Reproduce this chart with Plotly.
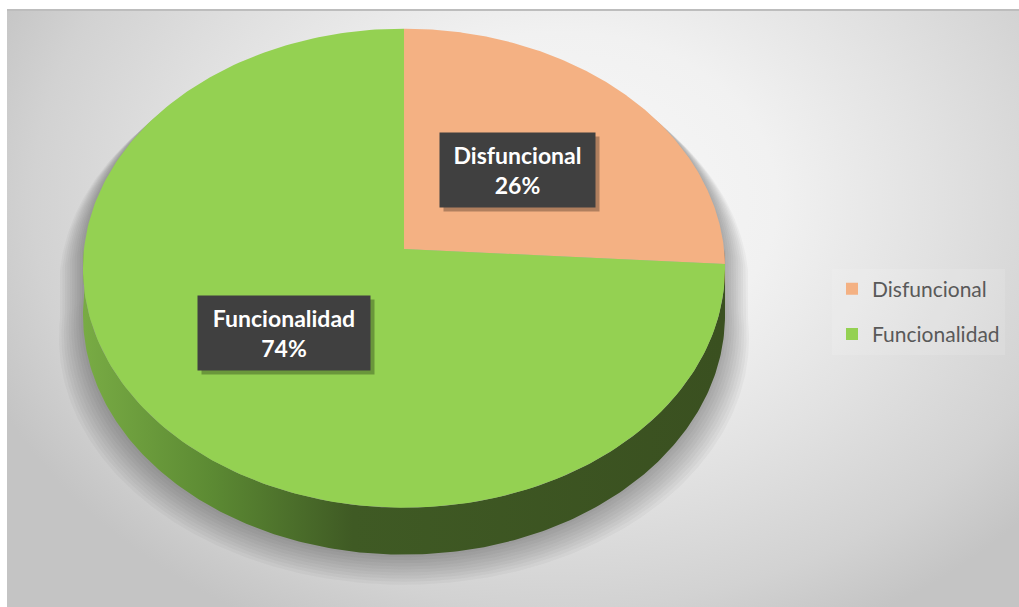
import numpy as np
import plotly.graph_objects as go

# ---------------- data ----------------
labels = ["Disfuncional", "Funcionalidad"]
values = [26, 74]
top_colors = ["#F4B183", "#94D152"]
side_scales = [
    [[0, "#a8704a"], [1, "#8a5a38"]],
    [[0, "#78ab44"], [0.2, "#5c8a33"], [0.42, "#3f5a24"], [1, "#3a5020"]],
]

# ---------------- geometry (pixel space of the plot area) ----------------
CX, CY, RX, RY, K, DEPTH = 404, 249, 320, 238, 0.08, 47
N = 240


def proj(theta_deg, f=1.0, z=0.0):
    t = np.radians(np.asarray(theta_deg, dtype=float))
    u = f * np.sin(t)
    v = f * np.cos(t)
    s = 1.0 / (1.0 + K * v)
    return CX + RX * u * s, CY - RY * v * s + z


total = float(sum(values))
angles = np.concatenate([[0], np.cumsum(values) / total * 360.0])

fig = go.Figure()

# background (radial gradient)
bx0, bx1, by0, by1 = -60, 1180, -280, 680
fig.add_trace(go.Scatter(
    x=[bx0, bx1, bx1, bx0, bx0], y=[by0, by0, by1, by1, by0],
    mode="lines", line=dict(width=0), fill="toself",
    fillgradient=dict(type="radial", colorscale=[[0, "#f8f8f8"], [0.35, "#f1f1f1"],
                                                 [0.6, "#e2e2e2"], [0.85, "#d2d2d2"],
                                                 [1, "#c4c4c4"]]),
    hoverinfo="skip", showlegend=False))

# soft shadow around the pie silhouette
back = np.linspace(-90, 90, N)
front = np.linspace(90, 270, N)
sx_b, sy_b = proj(back)
sx_f, sy_f = proj(front, z=DEPTH)
sil_x = np.concatenate([sx_b, sx_f])
sil_y = np.concatenate([sy_b, sy_f])
mcx, mcy = CX, CY + DEPTH / 2
for g in np.linspace(24, 2, 10):
    xs = mcx + (sil_x - mcx) * (1 + g / RX)
    ys = mcy + (sil_y - mcy) * (1 + 0.3 * g / RY) + g * 0.9
    fig.add_trace(go.Scatter(
        x=np.append(xs, xs[0]), y=np.append(ys, ys[0]), mode="lines",
        line=dict(width=0), fill="toself", fillcolor="rgba(0,0,0,0.032)",
        hoverinfo="skip", showlegend=False))

# side walls
for i in range(len(values)):
    lo, hi = max(angles[i], 90.0), min(angles[i + 1], 270.0)
    if hi <= lo:
        continue
    th = np.linspace(lo, hi, N)
    tx, ty = proj(th)
    bx, by = proj(th[::-1], z=DEPTH)
    xs = np.concatenate([tx, bx, tx[:1]])
    ys = np.concatenate([ty, by, ty[:1]])
    fig.add_trace(go.Scatter(
        x=xs, y=ys, mode="lines", line=dict(width=0), fill="toself",
        fillgradient=dict(type="horizontal", colorscale=side_scales[i],
                          start=CX - RX, stop=CX + RX),
        hoverinfo="skip", showlegend=False))

# top faces
for i in range(len(values)):
    th = np.linspace(angles[i], angles[i + 1], N)
    ax_, ay_ = proj(th)
    xs = np.concatenate([[CX], ax_, [CX]])
    ys = np.concatenate([[CY], ay_, [CY]])
    fig.add_trace(go.Scatter(
        x=xs, y=ys, mode="lines", line=dict(width=0, color=top_colors[i]),
        fill="toself", fillcolor=top_colors[i], name=labels[i],
        hoverinfo="name", showlegend=False))

# legend entries
for i in range(len(values)):
    fig.add_trace(go.Scatter(
        x=[None], y=[None], mode="markers", name=labels[i],
        legendgroup=labels[i],
        marker=dict(symbol="square", size=12, color=top_colors[i]),
        showlegend=True))

# data labels
BOX_W = [155, 172]
BOX_H = 74
annotations = []
for i in range(len(values)):
    mid = (angles[i] + angles[i + 1]) / 2
    lx, ly = proj(mid, f=0.5)
    pct = round(100 * values[i] / total)
    txt = f"{labels[i]}<br>{pct}%"
    common = dict(x=float(lx), y=float(ly), xref="x", yref="y",
                  showarrow=False, borderpad=0, align="center", valign="middle",
                  width=BOX_W[i], height=BOX_H)
    annotations.append(dict(common, text=" ", bgcolor="rgba(0,0,0,0.28)",
                            xshift=4, yshift=-4,
                            font=dict(family="Lato", size=23)))
    annotations.append(dict(common, text=txt, bgcolor="#404040",
                            font=dict(family="Lato", size=23, weight="bold",
                                      color="#ffffff")))

fig.update_layout(
    width=1019, height=607,
    margin=dict(l=7, r=0, t=10, b=0),
    paper_bgcolor="#ffffff", plot_bgcolor="#e6e6e6",
    xaxis=dict(range=[7, 1019], visible=False, fixedrange=True),
    yaxis=dict(range=[607, 10], visible=False, fixedrange=True),
    showlegend=True,
    legend=dict(x=(832 - 7) / 1012, y=1 - (311.5 - 10) / 597, xanchor="left",
                yanchor="middle", traceorder="grouped", tracegroupgap=15,
                bgcolor="rgba(255,255,255,0.12)",
                font=dict(family="Lato", size=21, color="#595959"),
                itemwidth=30),
    annotations=annotations,
    shapes=[dict(type="line", xref="paper", yref="paper", x0=0, x1=1, y0=1, y1=1,
                 line=dict(color="#bdbdbd", width=2))],
)

fig.write_html("out.html", config={"displayModeBar": False},
               post_script="document.body.style.margin='0px';")
